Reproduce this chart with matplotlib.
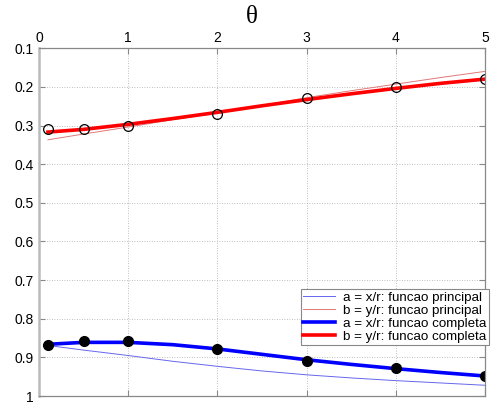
import matplotlib

matplotlib.use("Agg")
import matplotlib.pyplot as plt

# marker samples
x_pts = [0.1, 0.5, 1, 2, 3, 4, 5]
b_pts = [0.310, 0.310, 0.300, 0.270, 0.229, 0.200, 0.180]
a_pts = [0.869, 0.858, 0.858, 0.878, 0.908, 0.928, 0.949]

# curves
x_line = [0.1, 0.5, 1, 1.5, 2, 2.5, 3, 3.5, 4, 4.5, 5]
a_full = [0.866, 0.861, 0.861, 0.867, 0.878, 0.892, 0.906, 0.918, 0.929, 0.939, 0.948]
b_full = [0.317, 0.310, 0.297, 0.282, 0.266, 0.249, 0.233, 0.218, 0.204, 0.191, 0.180]
a_princ = [0.869, 0.881, 0.895, 0.910, 0.923, 0.935, 0.945, 0.953, 0.960, 0.966, 0.972]
b_princ = [0.337, 0.322, 0.304, 0.285, 0.267, 0.248, 0.228, 0.210, 0.193, 0.176, 0.160]

labels = [
    "a = x/r: funcao principal",
    "b = y/r: funcao principal",
    "a = x/r: funcao completa",
    "b = y/r: funcao completa",
]

plt.rcParams["font.family"] = ["Liberation Sans", "DejaVu Sans"]

fig = plt.figure(figsize=(5.0, 4.05), dpi=100)
ax = fig.add_axes([0.078, 0.022, 0.892, 0.859])

ax.plot(x_line, a_princ, color="#6666ee", lw=0.7, label=labels[0])
ax.plot(x_line, b_princ, color="#e07878", lw=0.7, label=labels[1])
ax.plot(x_line, a_full, color="#0000ff", lw=2.6, label=labels[2])
ax.plot(x_line, b_full, color="#ff0000", lw=2.6, label=labels[3])
ax.plot(x_pts, b_pts, "o", mfc="none", mec="black", mew=0.9, ms=7)
ax.plot(x_pts, a_pts, "o", mfc="black", mec="black", ms=7)

ax.set_xlim(0, 5)
ax.set_ylim(1, 0.1)
ax.set_xticks([0, 1, 2, 3, 4, 5])
ax.set_yticks([0.1, 0.2, 0.3, 0.4, 0.5, 0.6, 0.7, 0.8, 0.9, 1])
ax.set_yticklabels(["0.1", "0.2", "0.3", "0.4", "0.5", "0.6", "0.7", "0.8", "0.9", "1"])
ax.xaxis.tick_top()
ax.tick_params(axis="both", direction="in", length=4, labelsize=10, color="#888888",
               top=True, bottom=True, left=True, right=True, pad=2)
ax.tick_params(axis="y", pad=4)
ax.grid(True, linestyle=(0, (1, 2)), color="#aaaaaa", lw=0.6)
for side in ax.spines.values():
    side.set_color("#888888")
    side.set_linewidth(0.9)
ax.spines["left"].set_color("#bbbbbb")
ax.spines["left"].set_linewidth(1.8)

fig.text(0.503, 1 - 17 / 405, "θ", family=["Liberation Serif", "DejaVu Serif"],
         fontsize=18, ha="center", va="center")

leg = ax.legend(loc="lower right", bbox_to_anchor=(1.01, 0.146), fontsize=9.6,
                fancybox=False, framealpha=1, edgecolor="#888888",
                borderpad=0.2, labelspacing=0.05, handlelength=2.4,
                handletextpad=0.6, borderaxespad=0)
leg.get_frame().set_linewidth(0.8)

fig.savefig("out.png", dpi=100)
